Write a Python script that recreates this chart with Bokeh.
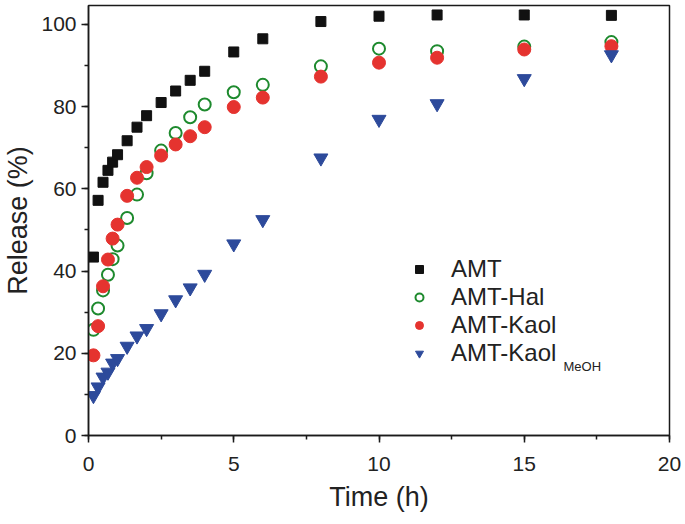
from bokeh.plotting import figure
from bokeh.models import Range1d, SingleIntervalTicker, Legend, LegendItem, Label
from bokeh.embed import file_html
from bokeh.resources import INLINE

time_h = [0.17, 0.33, 0.5, 0.67, 0.83, 1, 1.33, 1.67, 2, 2.5, 3, 3.5, 4, 5, 6, 8, 10, 12, 15, 18]
amt = [43.4, 57.2, 61.6, 64.5, 66.5, 68.3, 71.7, 75.0, 77.8, 81.0, 83.8, 86.4, 88.6, 93.3, 96.5,
       100.7, 102.0, 102.3, 102.3, 102.2]
amt_hal = [25.7, 30.9, 35.3, 39.1, 42.9, 46.2, 52.9, 58.6, 63.8, 69.3, 73.6, 77.4, 80.5, 83.5, 85.3,
           89.8, 94.1, 93.5, 94.6, 95.7]
amt_kaol = [19.5, 26.6, 36.3, 42.8, 47.9, 51.3, 58.3, 62.7, 65.3, 68.1, 70.8, 72.8, 75.0, 79.9, 82.2,
            87.3, 90.7, 91.9, 93.9, 94.7]
amt_kaol_meoh = [9.7, 11.8, 14.2, 15.4, 17.6, 18.7, 21.7, 24.2, 26.0, 29.6, 33.0, 35.9, 39.2, 46.6, 52.5,
                 67.5, 76.9, 80.7, 86.8, 92.6]
labels = ["AMT", "AMT-Hal", "AMT-Kaol", "AMT-Kaol"]

FONT = "Liberation Sans"

p = figure(width=685, height=524, output_backend="svg", toolbar_location=None,
           x_range=Range1d(0, 20), y_range=Range1d(0, 104.6),
           min_border_left=87, min_border_right=16, min_border_top=5, min_border_bottom=89)
p.xgrid.visible = False
p.ygrid.visible = False
p.outline_line_color = "#1a1a1a"
p.outline_line_width = 1.5
p.background_fill_color = "white"
p.border_fill_color = "white"

r1 = p.scatter(time_h, amt, marker="square", size=10, fill_color="#111111", line_color="#111111")
r2 = p.scatter(time_h, amt_hal, marker="circle", size=12, fill_color=None, line_color="#1e8a2e", line_width=2)
r3 = p.scatter(time_h, amt_kaol, marker="circle", size=13, fill_color="#e5332f", line_color="#e5332f")
r4 = p.scatter(time_h, amt_kaol_meoh, marker="inverted_triangle", size=14, fill_color="#2d4a9b", line_color="#2d4a9b")

p.xaxis.ticker = SingleIntervalTicker(interval=5, num_minor_ticks=2)
p.yaxis.ticker = SingleIntervalTicker(interval=20, num_minor_ticks=2)
for ax in (p.xaxis, p.yaxis):
    ax.axis_line_width = 1.5
    ax.axis_line_color = "#1a1a1a"
    ax.major_tick_line_width = 1.5
    ax.minor_tick_line_width = 1.5
    ax.major_tick_line_color = "#1a1a1a"
    ax.minor_tick_line_color = "#1a1a1a"
    ax.major_tick_out = 7
    ax.major_tick_in = 0
    ax.minor_tick_out = 4
    ax.minor_tick_in = 0
    ax.major_label_text_font = FONT
    ax.major_label_text_font_size = "21px"
    ax.major_label_text_color = "#222222"
    ax.axis_label_text_font = FONT
    ax.axis_label_text_font_size = "27px"
    ax.axis_label_text_font_style = "normal"
    ax.axis_label_text_color = "#222222"

p.xaxis.axis_label = "Time (h)"
p.yaxis.axis_label = "Release (%)"
p.xaxis.major_label_standoff = 14
p.yaxis.major_label_standoff = 5
p.xaxis.axis_label_standoff = 8
p.yaxis.axis_label_standoff = 5

legend = Legend(items=[LegendItem(label=labels[0], renderers=[r1]),
                       LegendItem(label=labels[1], renderers=[r2]),
                       LegendItem(label=labels[2], renderers=[r3]),
                       LegendItem(label=labels[3], renderers=[r4])],
                location=(321, 68), border_line_color=None, background_fill_alpha=0,
                label_text_font=FONT, label_text_font_size="24px", label_text_color="#222222",
                glyph_width=20, glyph_height=24, label_height=24, label_standoff=22,
                spacing=0, padding=0, margin=0)
p.add_layout(legend)

sub = Label(x=16.35, y=16.8, text="MeOH", text_font=FONT, text_font_size="13px",
            text_color="#222222", text_baseline="alphabetic")
p.add_layout(sub)

open("out.html", "w").write(file_html(p, INLINE))
